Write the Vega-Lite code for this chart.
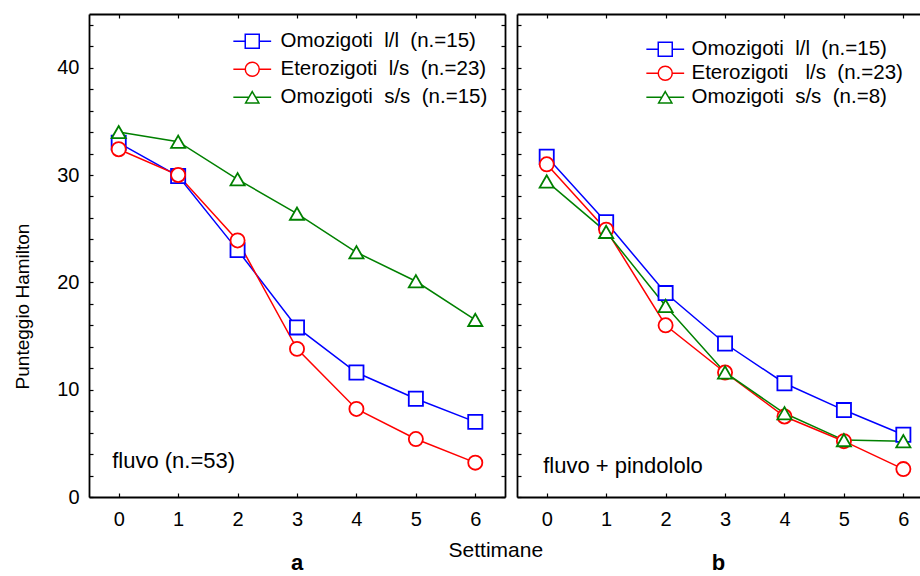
{
  "$schema": "https://vega.github.io/schema/vega-lite/v6.json",
  "padding": {"left": 13, "top": 13, "right": 0, "bottom": 0},
  "background": "white",
  "config": {
    "font": "Liberation Sans",
    "view": {"stroke": null},
    "axis": {"domainColor": "black", "domainWidth": 1.8, "tickColor": "black", "tickWidth": 1.2, "labelColor": "black", "titleColor": "black", "labelFont": "Liberation Sans", "titleFont": "Liberation Sans", "labelFontSize": 20, "grid": false},
    "legend": {"labelFont": "Liberation Sans", "labelFontSize": 20.5, "labelColor": "black", "labelLimit": 400, "padding": 0, "symbolOpacity": 1, "symbolSize": 196, "symbolStrokeWidth": 1.5},
    "title": {"font": "Liberation Sans", "color": "black"}
  },
  "title": {"text": "Settimane", "orient": "bottom", "anchor": "middle", "fontSize": 21, "fontWeight": "normal", "offset": -34, "dx": 29},
  "datasets": {
    "a": [
      {"week": 0, "score": 33.0, "serie": "Omozigoti\u00a0 l/l\u00a0 (n.=15)"},
      {"week": 1, "score": 29.9, "serie": "Omozigoti\u00a0 l/l\u00a0 (n.=15)"},
      {"week": 2, "score": 23.0, "serie": "Omozigoti\u00a0 l/l\u00a0 (n.=15)"},
      {"week": 3, "score": 15.8, "serie": "Omozigoti\u00a0 l/l\u00a0 (n.=15)"},
      {"week": 4, "score": 11.6, "serie": "Omozigoti\u00a0 l/l\u00a0 (n.=15)"},
      {"week": 5, "score": 9.15, "serie": "Omozigoti\u00a0 l/l\u00a0 (n.=15)"},
      {"week": 6, "score": 7.0, "serie": "Omozigoti\u00a0 l/l\u00a0 (n.=15)"},
      {"week": 0, "score": 32.4, "serie": "Eterozigoti\u00a0 l/s\u00a0 (n.=23)"},
      {"week": 1, "score": 30.0, "serie": "Eterozigoti\u00a0 l/s\u00a0 (n.=23)"},
      {"week": 2, "score": 23.9, "serie": "Eterozigoti\u00a0 l/s\u00a0 (n.=23)"},
      {"week": 3, "score": 13.8, "serie": "Eterozigoti\u00a0 l/s\u00a0 (n.=23)"},
      {"week": 4, "score": 8.2, "serie": "Eterozigoti\u00a0 l/s\u00a0 (n.=23)"},
      {"week": 5, "score": 5.4, "serie": "Eterozigoti\u00a0 l/s\u00a0 (n.=23)"},
      {"week": 6, "score": 3.2, "serie": "Eterozigoti\u00a0 l/s\u00a0 (n.=23)"},
      {"week": 0, "score": 34.0, "serie": "Omozigoti\u00a0 s/s\u00a0 (n.=15)"},
      {"week": 1, "score": 33.1, "serie": "Omozigoti\u00a0 s/s\u00a0 (n.=15)"},
      {"week": 2, "score": 29.6, "serie": "Omozigoti\u00a0 s/s\u00a0 (n.=15)"},
      {"week": 3, "score": 26.4, "serie": "Omozigoti\u00a0 s/s\u00a0 (n.=15)"},
      {"week": 4, "score": 22.8, "serie": "Omozigoti\u00a0 s/s\u00a0 (n.=15)"},
      {"week": 5, "score": 20.1, "serie": "Omozigoti\u00a0 s/s\u00a0 (n.=15)"},
      {"week": 6, "score": 16.5, "serie": "Omozigoti\u00a0 s/s\u00a0 (n.=15)"}
    ],
    "b": [
      {"week": 0, "score": 31.7, "serie": "Omozigoti\u00a0 l/l\u00a0 (n.=15)"},
      {"week": 1, "score": 25.6, "serie": "Omozigoti\u00a0 l/l\u00a0 (n.=15)"},
      {"week": 2, "score": 19.0, "serie": "Omozigoti\u00a0 l/l\u00a0 (n.=15)"},
      {"week": 3, "score": 14.3, "serie": "Omozigoti\u00a0 l/l\u00a0 (n.=15)"},
      {"week": 4, "score": 10.6, "serie": "Omozigoti\u00a0 l/l\u00a0 (n.=15)"},
      {"week": 5, "score": 8.1, "serie": "Omozigoti\u00a0 l/l\u00a0 (n.=15)"},
      {"week": 6, "score": 5.8, "serie": "Omozigoti\u00a0 l/l\u00a0 (n.=15)"},
      {"week": 0, "score": 31.0, "serie": "Eterozigoti\u00a0\u00a0 l/s\u00a0 (n.=23)"},
      {"week": 1, "score": 24.9, "serie": "Eterozigoti\u00a0\u00a0 l/s\u00a0 (n.=23)"},
      {"week": 2, "score": 16.0, "serie": "Eterozigoti\u00a0\u00a0 l/s\u00a0 (n.=23)"},
      {"week": 3, "score": 11.6, "serie": "Eterozigoti\u00a0\u00a0 l/s\u00a0 (n.=23)"},
      {"week": 4, "score": 7.5, "serie": "Eterozigoti\u00a0\u00a0 l/s\u00a0 (n.=23)"},
      {"week": 5, "score": 5.2, "serie": "Eterozigoti\u00a0\u00a0 l/s\u00a0 (n.=23)"},
      {"week": 6, "score": 2.6, "serie": "Eterozigoti\u00a0\u00a0 l/s\u00a0 (n.=23)"},
      {"week": 0, "score": 29.4, "serie": "Omozigoti\u00a0 s/s\u00a0 (n.=8)"},
      {"week": 1, "score": 24.7, "serie": "Omozigoti\u00a0 s/s\u00a0 (n.=8)"},
      {"week": 2, "score": 17.8, "serie": "Omozigoti\u00a0 s/s\u00a0 (n.=8)"},
      {"week": 3, "score": 11.6, "serie": "Omozigoti\u00a0 s/s\u00a0 (n.=8)"},
      {"week": 4, "score": 7.8, "serie": "Omozigoti\u00a0 s/s\u00a0 (n.=8)"},
      {"week": 5, "score": 5.3, "serie": "Omozigoti\u00a0 s/s\u00a0 (n.=8)"},
      {"week": 6, "score": 5.2, "serie": "Omozigoti\u00a0 s/s\u00a0 (n.=8)"}
    ]
  },
  "spacing": 10,
  "resolve": {"scale": {"color": "independent", "shape": "independent", "x": "independent", "y": "independent"}, "legend": {"color": "independent", "shape": "independent"}},
  "hconcat": [
    {
      "width": 416,
      "height": 483,
      "title": {"text": "a", "orient": "bottom", "fontSize": 22, "fontWeight": "bold", "offset": 24},
      "data": {"name": "a"},
      "resolve": {"axis": {"x": "independent", "y": "independent"}, "scale": {"color": "independent", "shape": "independent"}, "legend": {"color": "independent", "shape": "independent"}},
      "layer": [
        {
          "mark": {"type": "line", "strokeWidth": 1.5},
          "encoding": {
            "x": {"field": "week", "type": "quantitative", "scale": {"domain": [-0.5, 6.5], "nice": false, "zero": false}, "axis": {"orient": "bottom", "values": [0, 1, 2, 3, 4, 5, 6], "tickSize": -4, "labelPadding": 16, "title": null, "format": "d"}},
            "y": {"field": "score", "type": "quantitative", "scale": {"domain": [0, 45], "nice": false}, "axis": {"orient": "left", "values": [0, 2, 4, 6, 8, 10, 12, 14, 16, 18, 20, 22, 24, 26, 28, 30, 32, 34, 36, 38, 40, 42, 44], "labelExpr": "datum.value % 10 === 0 ? datum.label : ''", "tickSize": -4, "labelPadding": 14, "title": "Punteggio Hamilton", "titleFontSize": 19, "titleFontWeight": "normal", "titlePadding": 24, "titleY": 292}},
            "color": {"field": "serie", "type": "nominal", "scale": {"domain": ["Omozigoti\u00a0 l/l\u00a0 (n.=15)", "Eterozigoti\u00a0 l/s\u00a0 (n.=23)", "Omozigoti\u00a0 s/s\u00a0 (n.=15)"], "range": ["#0000ff", "#ff0000", "#008000"]}, "legend": null}
          }
        },
        {
          "mark": {"type": "point", "filled": false, "fill": "white", "size": 200, "strokeWidth": 1.8, "opacity": 1},
          "encoding": {
            "x": {"field": "week", "type": "quantitative", "axis": {"orient": "top", "values": [0, 1, 2, 3, 4, 5, 6], "tickSize": -4, "labels": false, "title": null}},
            "y": {"field": "score", "type": "quantitative", "axis": {"orient": "right", "values": [0, 2, 4, 6, 8, 10, 12, 14, 16, 18, 20, 22, 24, 26, 28, 30, 32, 34, 36, 38, 40, 42, 44], "tickSize": -4, "labels": false, "title": null}},
            "color": {"field": "serie", "type": "nominal", "scale": {"domain": ["Omozigoti\u00a0 l/l\u00a0 (n.=15)", "Eterozigoti\u00a0 l/s\u00a0 (n.=23)", "Omozigoti\u00a0 s/s\u00a0 (n.=15)"], "range": ["#0000ff", "#ff0000", "#008000"]}, "legend": null},
            "shape": {"field": "serie", "type": "nominal", "scale": {"domain": ["Omozigoti\u00a0 l/l\u00a0 (n.=15)", "Eterozigoti\u00a0 l/s\u00a0 (n.=23)", "Omozigoti\u00a0 s/s\u00a0 (n.=15)"], "range": ["square", "circle", "triangle-up"]}, "legend": null}
          }
        },
        {
          "mark": {"type": "point", "filled": false, "opacity": 0, "strokeWidth": 1.5},
          "encoding": {
            "x": {"field": "week", "type": "quantitative", "axis": null},
            "y": {"field": "score", "type": "quantitative", "axis": null},
            "color": {"field": "serie", "type": "nominal", "scale": {"domain": ["Omozigoti\u00a0 l/l\u00a0 (n.=15)", "Eterozigoti\u00a0 l/s\u00a0 (n.=23)", "Omozigoti\u00a0 s/s\u00a0 (n.=15)"], "range": ["#0000ff", "#ff0000", "#008000"]},
              "legend": {"title": null, "orient": "none", "legendX": 153, "legendY": 17, "rowPadding": 7, "labelOffset": 18}},
            "shape": {"field": "serie", "type": "nominal", "scale": {"domain": ["Omozigoti\u00a0 l/l\u00a0 (n.=15)", "Eterozigoti\u00a0 l/s\u00a0 (n.=23)", "Omozigoti\u00a0 s/s\u00a0 (n.=15)"], "range": ["M-2.7,0H-1M1,0H2.7M-1,-1H1V1H-1Z", "M-2.7,0H-1M1,0H2.7M-1,0A1,1,0,1,0,1,0A1,1,0,1,0,-1,0Z", "M-2.7,0H-0.48M0.48,0H2.7M0,-0.82L0.95,0.82L-0.95,0.82Z"]},
              "legend": {"title": null, "orient": "none", "legendX": 153, "legendY": 17, "rowPadding": 7, "labelOffset": 18}}
          }
        },
        {
          "data": {"values": [{"label": "fluvo (n.=53)"}]},
          "mark": {"type": "text", "align": "left", "baseline": "middle", "fontSize": 22, "color": "black"},
          "encoding": {
            "x": {"datum": -0.11, "type": "quantitative", "axis": null},
            "y": {"datum": 3.4, "type": "quantitative", "axis": null},
            "text": {"field": "label"}
          }
        }
      ]
    },
    {
      "width": 403,
      "height": 483,
      "title": {"text": "b", "orient": "bottom", "fontSize": 22, "fontWeight": "bold", "offset": 24},
      "data": {"name": "b"},
      "resolve": {"axis": {"x": "independent", "y": "independent"}, "scale": {"color": "independent", "shape": "independent"}, "legend": {"color": "independent", "shape": "independent"}},
      "layer": [
        {
          "mark": {"type": "line", "strokeWidth": 1.5},
          "encoding": {
            "x": {"field": "week", "type": "quantitative", "scale": {"domain": [-0.5, 6.28], "nice": false, "zero": false}, "axis": {"orient": "bottom", "values": [0, 1, 2, 3, 4, 5, 6], "tickSize": -4, "labelPadding": 16, "title": null, "format": "d"}},
            "y": {"field": "score", "type": "quantitative", "scale": {"domain": [0, 45], "nice": false}, "axis": {"orient": "left", "values": [0, 2, 4, 6, 8, 10, 12, 14, 16, 18, 20, 22, 24, 26, 28, 30, 32, 34, 36, 38, 40, 42, 44], "tickSize": -4, "labels": false, "title": null}},
            "color": {"field": "serie", "type": "nominal", "scale": {"domain": ["Omozigoti\u00a0 l/l\u00a0 (n.=15)", "Eterozigoti\u00a0\u00a0 l/s\u00a0 (n.=23)", "Omozigoti\u00a0 s/s\u00a0 (n.=8)"], "range": ["#0000ff", "#ff0000", "#008000"]}, "legend": null}
          }
        },
        {
          "mark": {"type": "point", "filled": false, "fill": "white", "size": 200, "strokeWidth": 1.8, "opacity": 1},
          "encoding": {
            "x": {"field": "week", "type": "quantitative", "axis": {"orient": "top", "values": [0, 1, 2, 3, 4, 5, 6], "tickSize": -4, "labels": false, "title": null}},
            "y": {"field": "score", "type": "quantitative", "axis": null},
            "color": {"field": "serie", "type": "nominal", "scale": {"domain": ["Omozigoti\u00a0 l/l\u00a0 (n.=15)", "Eterozigoti\u00a0\u00a0 l/s\u00a0 (n.=23)", "Omozigoti\u00a0 s/s\u00a0 (n.=8)"], "range": ["#0000ff", "#ff0000", "#008000"]}, "legend": null},
            "shape": {"field": "serie", "type": "nominal", "scale": {"domain": ["Omozigoti\u00a0 l/l\u00a0 (n.=15)", "Eterozigoti\u00a0\u00a0 l/s\u00a0 (n.=23)", "Omozigoti\u00a0 s/s\u00a0 (n.=8)"], "range": ["square", "circle", "triangle-up"]}, "legend": null}
          }
        },
        {
          "mark": {"type": "point", "filled": false, "opacity": 0, "strokeWidth": 1.5},
          "encoding": {
            "x": {"field": "week", "type": "quantitative", "axis": null},
            "y": {"field": "score", "type": "quantitative", "axis": null},
            "color": {"field": "serie", "type": "nominal", "scale": {"domain": ["Omozigoti\u00a0 l/l\u00a0 (n.=15)", "Eterozigoti\u00a0\u00a0 l/s\u00a0 (n.=23)", "Omozigoti\u00a0 s/s\u00a0 (n.=8)"], "range": ["#0000ff", "#ff0000", "#008000"]},
              "legend": {"title": null, "orient": "none", "legendX": 138, "legendY": 25, "rowPadding": 3, "labelOffset": 16}},
            "shape": {"field": "serie", "type": "nominal", "scale": {"domain": ["Omozigoti\u00a0 l/l\u00a0 (n.=15)", "Eterozigoti\u00a0\u00a0 l/s\u00a0 (n.=23)", "Omozigoti\u00a0 s/s\u00a0 (n.=8)"], "range": ["M-2.7,0H-1M1,0H2.7M-1,-1H1V1H-1Z", "M-2.7,0H-1M1,0H2.7M-1,0A1,1,0,1,0,1,0A1,1,0,1,0,-1,0Z", "M-2.7,0H-0.48M0.48,0H2.7M0,-0.82L0.95,0.82L-0.95,0.82Z"]},
              "legend": {"title": null, "orient": "none", "legendX": 138, "legendY": 25, "rowPadding": 3, "labelOffset": 16}}
          }
        },
        {
          "data": {"values": [{"label": "fluvo + pindololo"}]},
          "mark": {"type": "text", "align": "left", "baseline": "middle", "fontSize": 22, "color": "black"},
          "encoding": {
            "x": {"datum": -0.06, "type": "quantitative", "axis": null},
            "y": {"datum": 2.9, "type": "quantitative", "axis": null},
            "text": {"field": "label"}
          }
        }
      ]
    }
  ]
}
